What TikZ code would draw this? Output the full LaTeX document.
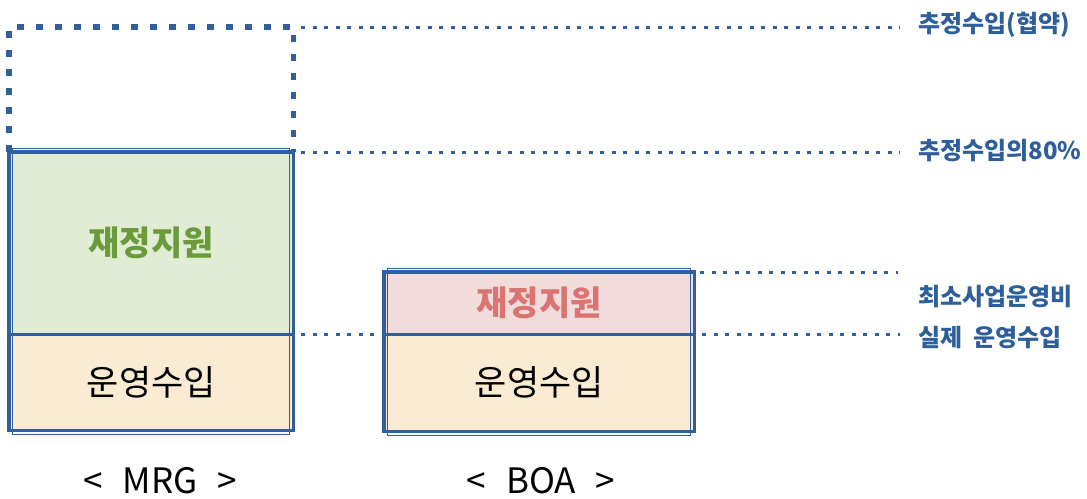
\documentclass[tikz,border=0pt]{standalone}
\usepackage{fontspec}
\setmainfont{Noto Sans CJK KR}
\definecolor{bord}{HTML}{30609B}
\definecolor{lab}{HTML}{2E5F9B}
\definecolor{gfill}{HTML}{E0EDD4}
\definecolor{gtext}{HTML}{6B9A3A}
\definecolor{pfill}{HTML}{F2DCDB}
\definecolor{ptext}{HTML}{D97473}
\definecolor{cfill}{HTML}{FBEBD3}
\tikzset{
  part/.style={rectangle, inner sep=0pt, anchor=north west, draw=none},
  frame/.style={draw=bord, line width=3.5pt},
  innerframe/.style={draw=bord, line width=1.3pt},
  divider/.style={draw=bord, line width=3pt},
  guide/.style={draw=bord, line width=3pt, dash pattern=on 4pt off 7.5pt},
  estbox/.style={rectangle, inner sep=0pt, anchor=north west},
  estline/.style={draw=bord, line width=5.5pt, dash pattern=on 7pt off 12pt},
  lbl/.style={anchor=west, inner sep=0pt, text=lab, font=\bfseries\fontsize{24}{26}\selectfont},
  big/.style={font=\fontsize{35}{37}\selectfont},
  bigb/.style={font=\bfseries\fontsize{34}{36}\selectfont},
  captxt/.style={font=\fontsize{35}{38}\selectfont, inner sep=0pt}
}
\begin{document}
\begin{tikzpicture}[x=1pt,y=-1pt]
\useasboundingbox (0,0) rectangle (1087,498);
% MRG column
\node[part, fill=gfill, minimum width=284pt, minimum height=182pt, text=gtext, bigb] (mrgG) at (9,152) {재정지원};
\node[part, fill=cfill, minimum width=284pt, minimum height=96pt, big] (mrgO) at (9,334) {운영수입};
\node[estbox, minimum width=284pt, minimum height=125pt] (est) at (9,27) {};
\draw[estline] (est.south west) -- (est.north west) -- (est.north east) -- (est.south east);
\draw[frame] (mrgG.north west) rectangle (mrgO.south east);
\draw[innerframe] ([shift={(3.8pt,3.8pt)}]mrgG.north west) rectangle ([shift={(-3.8pt,-3.8pt)}]mrgO.south east);
\draw[divider] (mrgO.north west) -- (mrgO.north east);
% BOA column
\node[part, fill=pfill, minimum width=310pt, minimum height=62pt, text=ptext, bigb] (boaP) at (384,272) {재정지원};
\node[part, fill=cfill, minimum width=310pt, minimum height=97pt, big] (boaO) at (384,334) {운영수입};
\draw[frame] (boaP.north west) rectangle (boaO.south east);
\draw[innerframe] ([shift={(3.8pt,3.8pt)}]boaP.north west) rectangle ([shift={(-3.8pt,-3.8pt)}]boaO.south east);
\draw[divider] (boaO.north west) -- (boaO.north east);
% labels
\node[lbl] (l1) at (918,25) {추정수입(협약)};
\node[lbl] (l2) at (918,151) {추정수입의80\%};
\node[lbl] (l3) at (918,297) {최소사업운영비};
\node[lbl] (l4) at (918,338) {실제 \ 운영수입};
\coordinate (e1) at (900,27);
\coordinate (e2) at (900,152);
\coordinate (e3) at (898,272);
\coordinate (e4) at (900,334);
% guide lines
\draw[guide] ([xshift=8pt]est.north east) -- (e1);
\draw[guide] ([xshift=8pt]mrgG.north east) -- (e2);
\draw[guide] ([xshift=6pt]boaP.north east) -- (e3);
\draw[guide] ([xshift=8pt]mrgO.north east) -- ([xshift=-4pt]boaO.north west);
\draw[guide] ([xshift=8pt]boaO.north east) -- (e4);
% captions
\node[captxt] (c1) at (160,481) {<\hspace{20pt}MRG\hspace{20pt}>};
\node[captxt] (c2) at (541,481) {<\hspace{20pt}BOA\hspace{20pt}>};
\end{tikzpicture}
\end{document}
